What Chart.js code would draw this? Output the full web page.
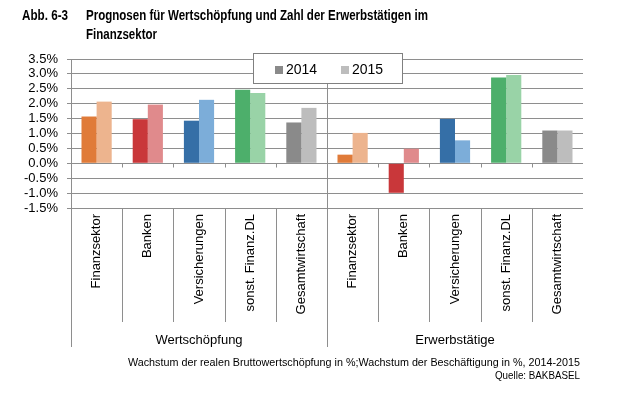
<!DOCTYPE html>
<html>
<head>
<meta charset="utf-8">
<script src="https://cdn.jsdelivr.net/npm/chart.js@4.4.1/dist/chart.umd.min.js"></script>
<style>
  body { margin: 0; background: #fff; width: 626px; height: 393px; overflow: hidden; position: relative;
         font-family: "Liberation Sans", Arial, sans-serif; color: #000; }
  #c { position: absolute; left: 0; top: 0; }
  .t { position: absolute; white-space: nowrap; transform-origin: 0 0; }
  .title { font-weight: bold; font-size: 14.5px; line-height: 19px; }
  .foot { font-size: 11.5px; line-height: 13px; }
</style>
</head>
<body>
<canvas id="c" width="626" height="393"></canvas>
<div class="t title fit" data-w="46" style="left:22px;top:6px">Abb. 6-3</div>
<div class="t title fit" data-w="342" style="left:86px;top:6px">Prognosen für Wertschöpfung und Zahl der Erwerbstätigen im</div>
<div class="t title fit" data-w="71" style="left:86px;top:25px">Finanzsektor</div>
<div class="t foot fit" data-w="452" data-right="580" style="top:356px">Wachstum der realen Bruttowertschöpfung in %;Wachstum der Beschäftigung in %, 2014-2015</div>
<div class="t foot fit" data-w="85" data-right="580" style="top:369px">Quelle: BAKBASEL</div>

<script>
// data
const categories = ['Finanzsektor', 'Banken', 'Versicherungen', 'sonst. Finanz.DL', 'Gesamtwirtschaft',
                    'Finanzsektor', 'Banken', 'Versicherungen', 'sonst. Finanz.DL', 'Gesamtwirtschaft'];
const groups = ['Wertschöpfung', 'Erwerbstätige'];
const groupSize = 5;
const seriesNames = ['2014', '2015'];
const v2014 = [1.57, 1.48, 1.43, 2.47, 1.37, 0.29, -0.99, 1.49, 2.88, 1.10];
const v2015 = [2.07, 1.97, 2.13, 2.36, 1.86, 1.02, 0.49, 0.77, 2.96, 1.10];
const yTicks = [-1.5, -1.0, -0.5, 0.0, 0.5, 1.0, 1.5, 2.0, 2.5, 3.0, 3.5];

// colours
const dark  = ['#E07B39', '#C9373A', '#356FA7', '#4DAF6B', '#8A8A8A'];
const light = ['#EDB48E', '#E08A8C', '#7CADD9', '#99D3A7', '#BDBDBD'];
const legendColors = ['#8A8A8A', '#BDBDBD'];
const gridColor = '#8E8E8E';
const font = '"Liberation Sans", Arial, sans-serif';

// squeeze the html texts to the widths of the original (narrow face)
document.querySelectorAll('.fit').forEach(el => {
  const w = +el.dataset.w;
  const s = w / el.getBoundingClientRect().width;
  el.style.transform = 'scaleX(' + s + ')';
  if (el.dataset.right) el.style.left = (+el.dataset.right - w) + 'px';
});

// category separators, zero-line ticks and group labels under the axis
const groupAxis = {
  id: 'groupAxis',
  afterDraw(chart) {
    const { ctx, chartArea: ca, scales: { x, y } } = chart;
    const n = categories.length;
    const step = (ca.right - ca.left) / n;
    const zero = Math.round(y.getPixelForValue(0)) + 0.5;
    const subBottom = ca.bottom + 114;
    const groupBottom = ca.bottom + 139;
    ctx.save();
    ctx.strokeStyle = gridColor;
    ctx.lineWidth = 1;
    const line = (x1, y1, x2, y2) => { ctx.beginPath(); ctx.moveTo(x1, y1); ctx.lineTo(x2, y2); ctx.stroke(); };
    for (let i = 0; i < n; i++) {
      const bx = Math.round(x.getPixelForValue(i) - step / 2) + 0.5;
      line(bx, zero, bx, zero + 4);
      if (i % groupSize === 0) line(bx, i === 0 ? ca.bottom : ca.top, bx, groupBottom);
      else line(bx, ca.bottom, bx, subBottom);
    }
    ctx.fillStyle = '#000';
    ctx.font = '13px ' + font;
    ctx.textAlign = 'center';
    ctx.textBaseline = 'middle';
    groups.forEach((g, gi) => {
      const a = x.getPixelForValue(gi * groupSize) - step / 2;
      const b = x.getPixelForValue(gi * groupSize + groupSize - 1) + step / 2;
      ctx.fillText(g, (a + b) / 2, ca.bottom + 132);
    });
    ctx.restore();
  }
};

// floating legend box inside the plot
const boxLegend = {
  id: 'boxLegend',
  afterDraw(chart) {
    const ctx = chart.ctx;
    const bx = 253.5, by = 53.5, bw = 149, bh = 30;
    ctx.save();
    ctx.fillStyle = '#fff';
    ctx.fillRect(bx, by, bw, bh);
    ctx.strokeStyle = '#808080';
    ctx.lineWidth = 1;
    ctx.strokeRect(bx, by, bw, bh);
    ctx.font = '14px ' + font;
    ctx.textBaseline = 'middle';
    ctx.textAlign = 'left';
    chart.data.datasets.forEach((ds, i) => {
      const ix = 275 + i * 66;
      ctx.fillStyle = legendColors[i];
      ctx.fillRect(ix, 66, 8, 8);
      ctx.fillStyle = '#000';
      ctx.fillText(ds.label, ix + 11, 70);
    });
    ctx.restore();
  }
};

new Chart(document.getElementById('c'), {
  type: 'bar',
  data: {
    labels: categories,
    datasets: [
      { label: seriesNames[0], data: v2014, backgroundColor: categories.map((c, i) => dark[i % groupSize]) },
      { label: seriesNames[1], data: v2015, backgroundColor: categories.map((c, i) => light[i % groupSize]) }
    ]
  },
  options: {
    responsive: false,
    animation: false,
    devicePixelRatio: 1,
    layout: { padding: { left: 0, right: 43, top: 59, bottom: 45 } },
    datasets: { bar: { categoryPercentage: 0.59, barPercentage: 1.0 } },
    plugins: { legend: { display: false }, tooltip: { enabled: false } },
    scales: {
      x: {
        grid: { display: false, drawTicks: false },
        border: { display: false },
        ticks: {
          autoSkip: false, minRotation: 90, maxRotation: 90, padding: 6,
          color: '#000', font: { family: font, size: 13 }
        },
        afterFit(scale) { scale.height = 140; }
      },
      y: {
        min: yTicks[0], max: yTicks[yTicks.length - 1],
        grid: { color: gridColor, tickLength: 4 },
        border: { display: true, color: gridColor },
        ticks: {
          autoSkip: false, padding: 9, color: '#000', font: { family: font, size: 13, lineHeight: 1 },
          callback: v => v.toFixed(1) + '%'
        },
        afterBuildTicks(scale) { scale.ticks = yTicks.map(v => ({ value: v })); },
        afterFit(scale) { scale.width = 71; }
      }
    }
  },
  plugins: [groupAxis, boxLegend]
});
</script>
</body>
</html>
